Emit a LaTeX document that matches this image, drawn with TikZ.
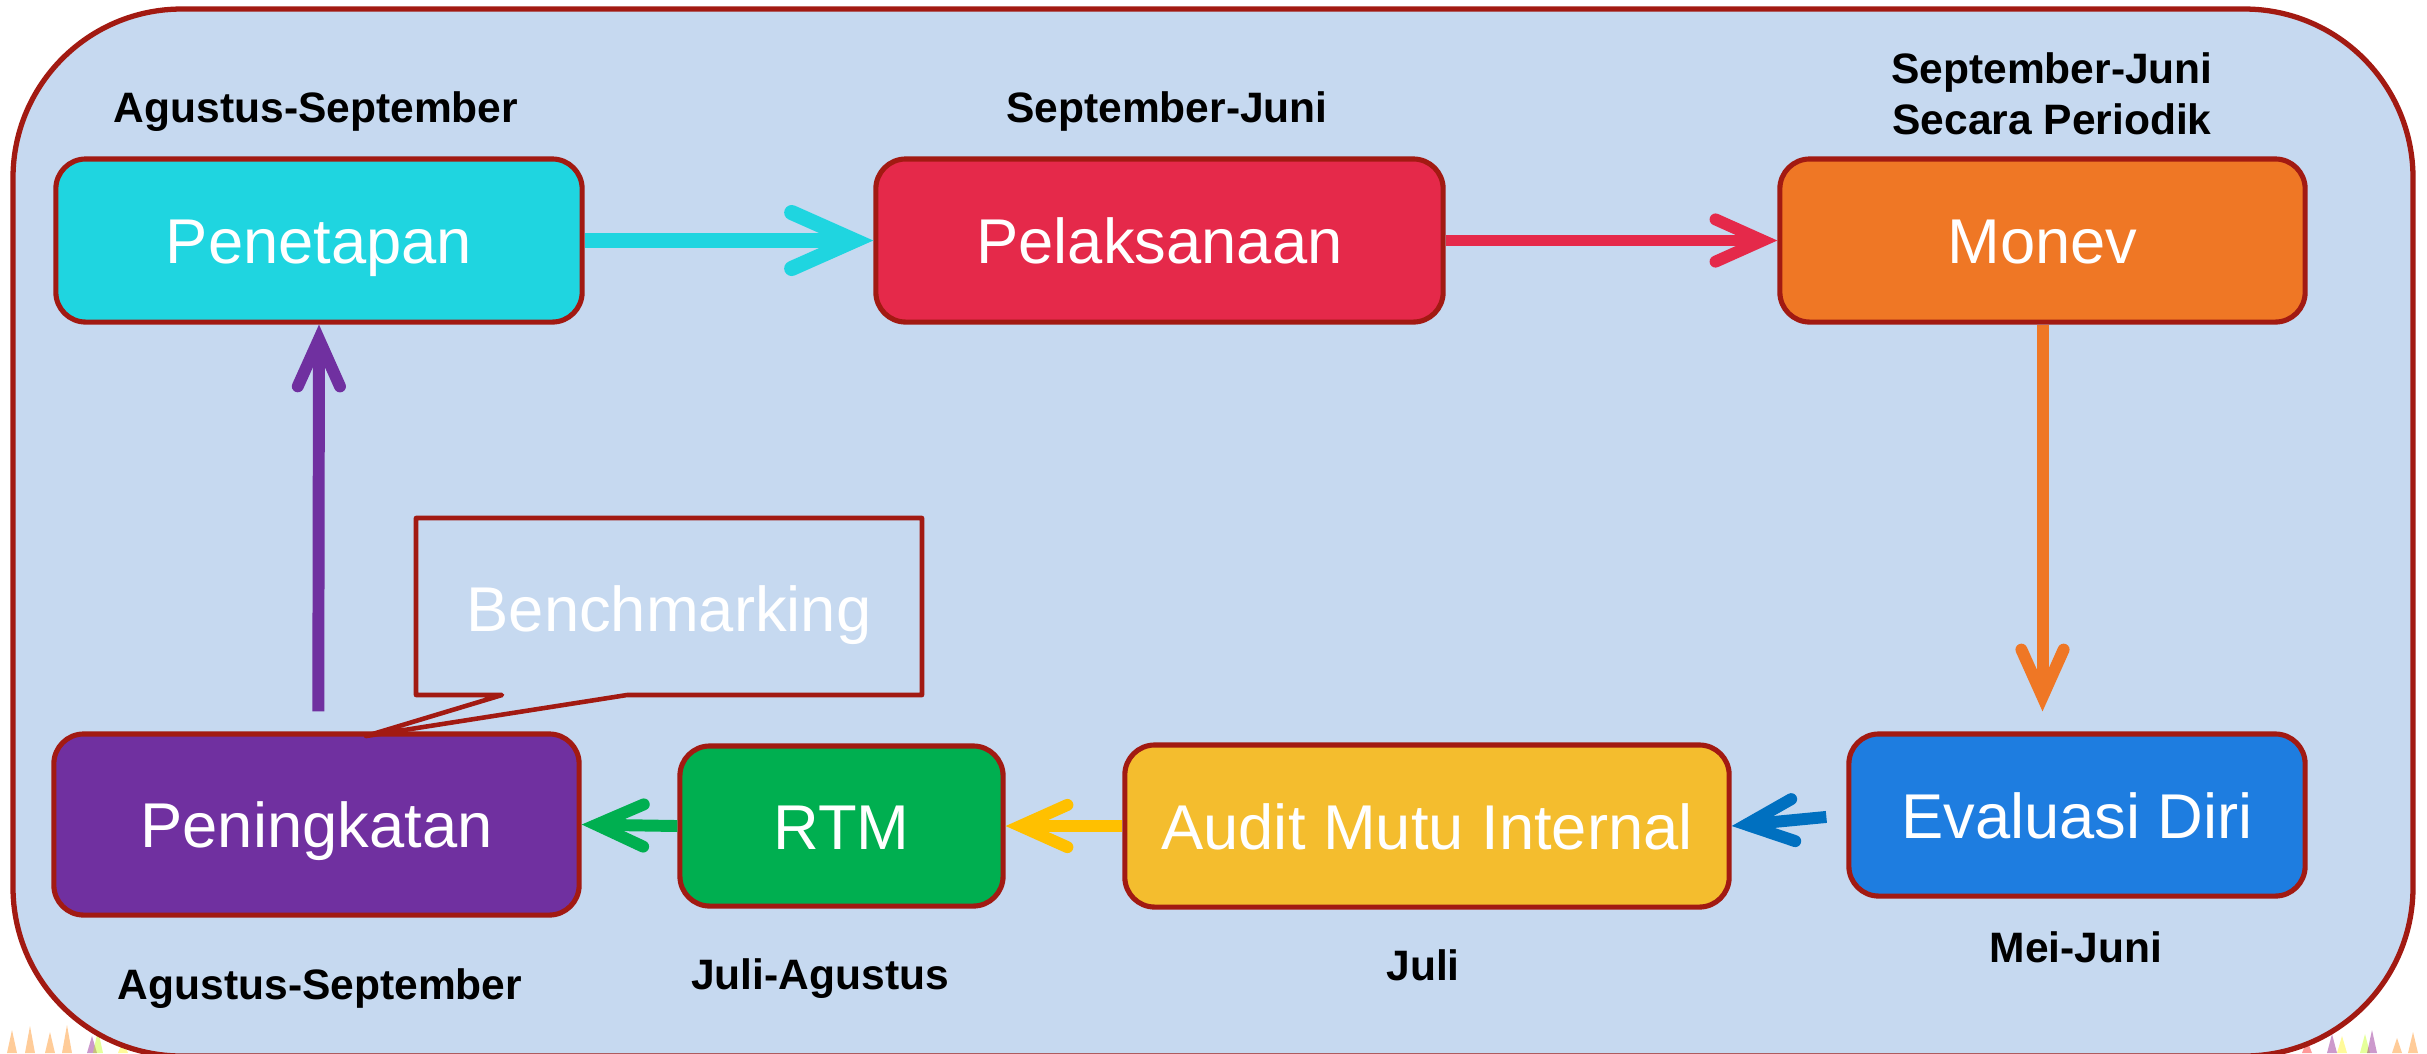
\documentclass[tikz,border=0pt]{standalone}
\usepackage{fontspec}
\setmainfont{Liberation Sans}
\usetikzlibrary{arrows.meta}

\definecolor{panel}{HTML}{C6D9F0}
\definecolor{frame}{HTML}{A21A12}
\definecolor{cPen}{HTML}{1FD5E0}
\definecolor{cPel}{HTML}{E5294A}
\definecolor{cMon}{HTML}{EF7725}
\definecolor{cEva}{HTML}{1E7DE0}
\definecolor{aEva}{HTML}{0070C0}
\definecolor{cAud}{HTML}{F4BD2E}
\definecolor{aAud}{HTML}{FFC000}
\definecolor{cRtm}{HTML}{00AF50}
\definecolor{cPng}{HTML}{7030A0}

\begin{document}
\begin{tikzpicture}[x=0.01cm, y=-0.01cm,
  stage/.style={draw=frame, line width=1.45pt, rounded corners=8.5pt,
    text=white, font=\fontsize{18}{22}\selectfont, inner sep=0pt,
    text height=13.1pt, text depth=0pt},
  period/.style={font=\fontsize{12.1}{14.5}\selectfont\bfseries, anchor=base, inner sep=0pt},
  flow/.style={line width=3.4pt,
    -{Straight Barb[length=13.4pt, width=12pt, line cap=round, line join=miter]}},
  bigflow/.style={line width=4.3pt,
    -{Straight Barb[length=17.9pt, width=15.9pt, line cap=round, line join=miter]}},
  spike/.style={opacity=0.4}
]
\useasboundingbox (0,0) rectangle (2427,1053);

% faint decorative spikes peeking out at the lower corners
\foreach \x/\h/\c in {12/1030/orange, 30/1026/orange, 50/1032/orange, 67/1025/orange,
                      92/1036/violet, 98/1030/lime, 123/1040/yellow}
  \fill[spike, \c] (\x-5,1053) -- (\x,\h) -- (\x+5,1053) -- cycle;
\foreach \x/\h/\c in {2307/1040/red, 2332/1034/violet, 2342/1036/yellow, 2365/1034/lime,
                      2372/1030/violet, 2397/1038/orange, 2413/1032/orange}
  \fill[spike, \c] (\x-5,1053) -- (\x,\h) -- (\x+5,1053) -- cycle;

% panel
\draw[draw=frame, line width=1.5pt, fill=panel, rounded corners=48pt]
  (13,9) rectangle (2413,1056);

% stages
\node[stage, fill=cPen, minimum width=5.26cm, minimum height=1.63cm] (pen) at (319,240.5) {Penetapan};
\node[stage, fill=cPel, minimum width=5.67cm, minimum height=1.63cm] (pel) at (1159.5,240.5) {Pelaksanaan};
\node[stage, fill=cMon, minimum width=5.25cm, minimum height=1.63cm] (mon) at (2042.5,240.5) {Monev};
\node[stage, fill=cEva, minimum width=4.56cm, minimum height=1.62cm] (eva) at (2077,815) {Evaluasi Diri};
\node[stage, fill=cAud, minimum width=6.04cm, minimum height=1.62cm] (aud) at (1427,826) {Audit Mutu Internal};
\node[stage, fill=cRtm, minimum width=3.23cm, minimum height=1.60cm] (rtm) at (841.5,826) {RTM};
\node[stage, fill=cPng, minimum width=5.25cm, minimum height=1.81cm] (png) at (316.5,824.5) {Peningkatan};

% periods
\node[period] (t1) at (316,122) {Agustus-September};
\node[period] (t2) at (1167,122) {September-Juni};
\node[period] (t3a) at (2052,83) {September-Juni};
\node[period] (t3b) at (2052,134) {Secara Periodik};
\node[period] (b1) at (320,999) {Agustus-September};
\node[period] (b2) at (820,989) {Juli-Agustus};
\node[period] (b3) at (1423,980) {Juli};
\node[period] (b4) at (2076,962) {Mei-Juni};

% benchmarking callout
\draw[frame, line width=1.3pt, line join=round]
  (416,518) -- (922,518) -- (922,695) -- (627,695) -- (366,736) -- (502,695) -- (416,695) -- cycle;
\node[text=white, font=\fontsize{18}{22}\selectfont, inner sep=0pt, anchor=base] (bm) at (669,631) {Benchmarking};

% flow connectors
\draw[bigflow, cPen] (pen.east) -- (pel.west);
\draw[flow, cPel] (pel.east) -- (mon.west);
\draw[flow, cMon] (mon.south) -- ([yshift=5.7pt]mon.south |- eva.north);
\draw[flow, aEva, shorten <=5.7pt] (eva.west) -- (aud.east);
\draw[flow, aAud] (aud.west) -- (rtm.east);
\draw[flow, cRtm] (rtm.west) -- (png.east);
\draw[flow, cPng, shorten <=5.7pt] ([xshift=0.5pt]png.north) -- (pen.south);
\end{tikzpicture}
\end{document}
